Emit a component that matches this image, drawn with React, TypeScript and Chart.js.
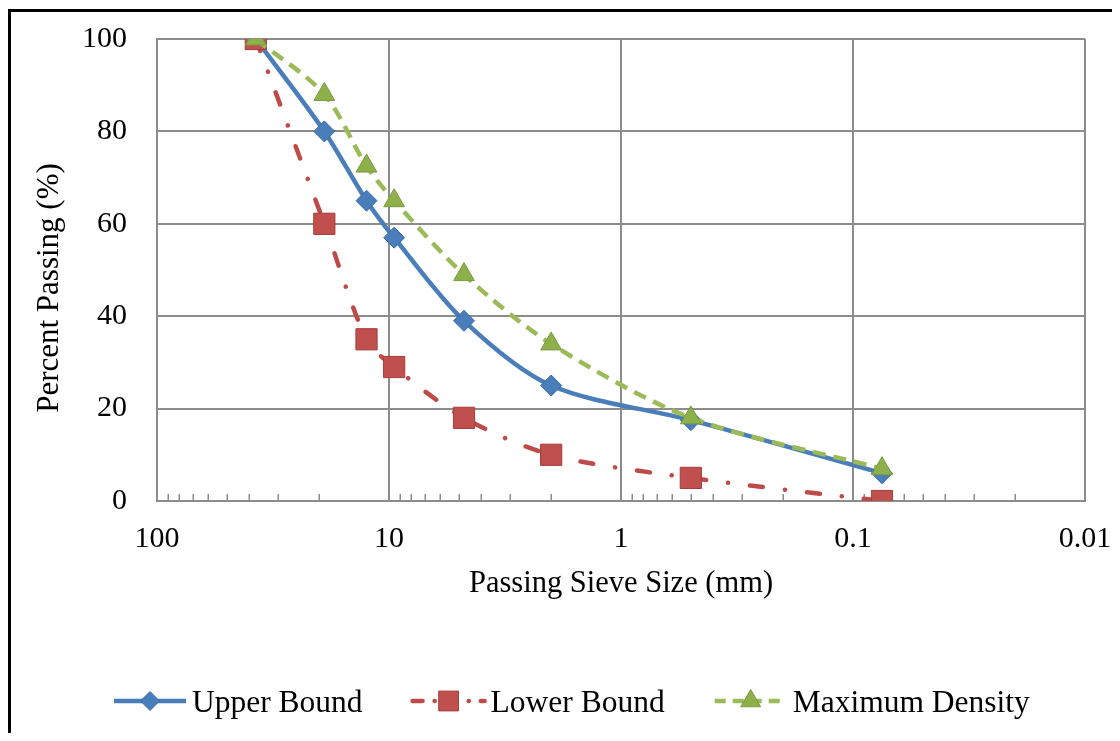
import React, { useEffect, useRef } from 'react';
import { Chart, registerables } from 'chart.js';

Chart.register(...registerables);

const sieveSizes = [37.5, 19, 12.5, 9.5, 4.75, 2, 0.5, 0.075];
const upperBound = [100, 80, 65, 57, 39, 25, 17.5, 6];
const lowerBound = [100, 60, 35, 29, 18, 10, 5, 0];
const maximumDensity = [100, 88, 72.5, 65, 49, 34, 18, 7];
const seriesNames = ['Upper Bound', 'Lower Bound', 'Maximum Density'];
const xTickValues = [100, 10, 1, 0.1, 0.01];
const xMinorMultipliers = [2, 3, 4, 5, 6, 7, 8, 9];
const xDecades = [0.01, 0.1, 1, 10];
const xTitle = 'Passing Sieve Size (mm)';
const yTitle = 'Percent Passing (%)';

const FONT = "'Liberation Serif', 'Times New Roman', serif";
const GRID = '#8c8c8c';
const CLEAR = 'rgba(0,0,0,0)';

type Marker = 'rectRot' | 'rect' | 'triangle';

function drawMarker(ctx: CanvasRenderingContext2D, style: Marker, x: number, y: number, r: number, fill: string, stroke: string) {
  ctx.save();
  ctx.beginPath();
  if (style === 'rectRot') {
    ctx.moveTo(x - r, y);
    ctx.lineTo(x, y - r);
    ctx.lineTo(x + r, y);
    ctx.lineTo(x, y + r);
  } else if (style === 'rect') {
    const s = Math.SQRT1_2 * r;
    ctx.rect(x - s, y - s, 2 * s, 2 * s);
  } else {
    const w = (r * Math.sqrt(3)) / 2;
    ctx.moveTo(x, y - r);
    ctx.lineTo(x + w, y + r / 2);
    ctx.lineTo(x - w, y + r / 2);
  }
  ctx.closePath();
  ctx.fillStyle = fill;
  ctx.fill();
  ctx.lineWidth = 1;
  ctx.strokeStyle = stroke;
  ctx.setLineDash([]);
  ctx.stroke();
  ctx.restore();
}

const framePlugin = {
  id: 'frame',
  beforeDraw(chart: any) {
    const { ctx, width, height } = chart;
    ctx.save();
    ctx.fillStyle = '#ffffff';
    ctx.fillRect(0, 0, width, height);
    ctx.fillStyle = '#000000';
    ctx.fillRect(0, 1, 3, height);
    ctx.fillRect(0, 1, width, 3);
    ctx.restore();
  },
};

const minorTickPlugin = {
  id: 'minorTicks',
  beforeDatasetsDraw(chart: any) {
    const { ctx, chartArea } = chart;
    const xs = chart.scales.x;
    ctx.save();
    ctx.strokeStyle = GRID;
    ctx.lineWidth = 1.5;
    ctx.beginPath();
    for (const d of xDecades) {
      for (const m of xMinorMultipliers) {
        const px = Math.round(xs.getPixelForValue(d * m)) + 0.25;
        ctx.moveTo(px, chartArea.bottom);
        ctx.lineTo(px, chartArea.bottom - 7);
      }
    }
    ctx.stroke();
    ctx.restore();
  },
};

const yTitlePlugin = {
  id: 'yTitle',
  afterDraw(chart: any) {
    const { ctx } = chart;
    ctx.save();
    ctx.translate(42, 280);
    ctx.rotate(-Math.PI / 2);
    ctx.font = `31px ${FONT}`;
    ctx.fillStyle = '#000';
    ctx.textAlign = 'center';
    ctx.textBaseline = 'middle';
    ctx.fillText(yTitle, 0, 0);
    ctx.restore();
  },
};

const legendPlugin = {
  id: 'customLegend',
  afterDraw(chart: any) {
    const { ctx } = chart;
    const y = 693;
    let x = 106;
    ctx.save();
    ctx.font = `31.5px ${FONT}`;
    chart.data.datasets.forEach((ds: any) => {
      ctx.save();
      ctx.strokeStyle = ds.borderColor;
      ctx.lineWidth = 4.5;
      ctx.lineCap = ds.legendCap || 'butt';
      ctx.setLineDash(ds.legendDash || []);
      ctx.beginPath();
      ctx.moveTo(x, y);
      ctx.lineTo(x + 72, y);
      ctx.stroke();
      ctx.restore();
      drawMarker(ctx, ds.pointStyle, x + 36, y, ds.legendRadius, ds.pointBackgroundColor, ds.pointBorderColor);
      ctx.fillStyle = '#000';
      ctx.textAlign = 'left';
      ctx.textBaseline = 'alphabetic';
      ctx.fillText(ds.label, x + 78, 704);
      x = x + 78 + ctx.measureText(ds.label).width + 50;
    });
    ctx.restore();
  },
};

export default function App() {
  const canvasRef = useRef<HTMLCanvasElement | null>(null);

  useEffect(() => {
    if (!canvasRef.current) return;
    const chart = new Chart(canvasRef.current, {
      type: 'line',
      data: {
        datasets: [
          {
            label: seriesNames[0],
            data: sieveSizes.map((s, i) => ({ x: s, y: upperBound[i] })),
            borderColor: '#4A7EBB',
            borderWidth: 4.5,
            tension: 0.3,
            pointStyle: 'rectRot',
            pointRadius: 10.5,
            pointHoverRadius: 10.5,
            pointBackgroundColor: '#4A7EBB',
            pointBorderColor: '#3B6CA8',
            pointBorderWidth: 1,
            order: 3,
            legendRadius: 9.5,
          } as any,
          {
            label: seriesNames[1],
            data: sieveSizes.map((s, i) => ({ x: s, y: lowerBound[i] })),
            borderColor: '#BE4B48',
            borderWidth: 4.5,
            borderDash: [13, 22, 0.1, 22],
            borderCapStyle: 'round',
            tension: 0.3,
            pointStyle: 'rect',
            pointRadius: 15,
            pointHoverRadius: 15,
            pointBackgroundColor: '#C0504D',
            pointBorderColor: '#A33E3B',
            pointBorderWidth: 1,
            order: 2,
            legendRadius: 14,
            legendDash: [10, 12, 0.1, 12],
            legendCap: 'round',
          } as any,
          {
            label: seriesNames[2],
            data: sieveSizes.map((s, i) => ({ x: s, y: maximumDensity[i] })),
            borderColor: '#9BBB59',
            borderWidth: 4.5,
            borderDash: [13, 8],
            tension: 0.3,
            pointStyle: 'triangle',
            pointRadius: 12,
            pointHoverRadius: 12,
            pointBackgroundColor: '#8DB04A',
            pointBorderColor: '#7A9A3E',
            pointBorderWidth: 1,
            order: 1,
            legendRadius: 11.5,
            legendDash: [11, 7],
          } as any,
        ],
      },
      options: {
        responsive: false,
        animation: false,
        devicePixelRatio: 1,
        layout: { autoPadding: false, padding: { left: 0, right: 27, top: 31, bottom: 122 } },
        plugins: {
          legend: { display: false },
          tooltip: { enabled: false },
        },
        scales: {
          x: {
            type: 'logarithmic',
            position: 'bottom',
            reverse: true,
            min: 0.01,
            max: 100,
            afterBuildTicks: (scale: any) => {
              scale.ticks = xTickValues.map((v) => ({ value: v }));
            },
            afterFit: (scale: any) => {
              scale.height = 110;
            },
            ticks: {
              autoSkip: false,
              maxRotation: 0,
              padding: 0,
              color: '#000',
              font: { family: FONT, size: 30 },
              callback: (v: any) => String(v),
            },
            grid: { color: GRID, lineWidth: 2, drawTicks: true, tickLength: 20, tickColor: CLEAR },
            border: { display: true, color: GRID, width: 2 },
            title: {
              display: true,
              text: xTitle,
              color: '#000',
              font: { family: FONT, size: 30.5 },
              padding: { top: 0, bottom: 9 },
            },
          },
          y: {
            type: 'linear',
            min: 0,
            max: 100,
            afterFit: (scale: any) => {
              scale.width = 149;
            },
            ticks: {
              stepSize: 20,
              padding: 0,
              color: '#000',
              font: { family: FONT, size: 30 },
            },
            grid: { color: GRID, lineWidth: 2, drawTicks: true, tickLength: 30, tickColor: CLEAR },
            border: { display: true, color: GRID, width: 2 },
          },
        },
      } as any,
      plugins: [framePlugin, minorTickPlugin, yTitlePlugin, legendPlugin],
    });
    return () => chart.destroy();
  }, []);

  return (
    <div style={{ width: 1104, height: 725 }}>
      <canvas ref={canvasRef} width={1104} height={725} style={{ display: 'block' }} />
    </div>
  );
}
